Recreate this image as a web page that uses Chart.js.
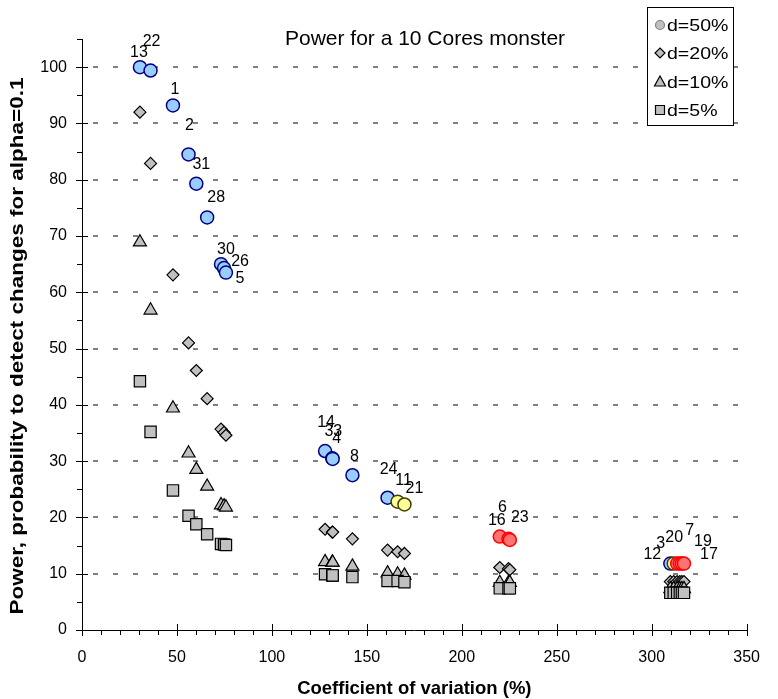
<!DOCTYPE html>
<html>
<head>
<meta charset="utf-8">
<title>Power for a 10 Cores monster</title>
<script src="https://cdn.jsdelivr.net/npm/chart.js"></script>
<style>
  html, body { margin: 0; padding: 0; background: #fff; }
  #wrap { width: 778px; height: 699px; }
</style>
</head>
<body>
<div id="wrap"><canvas id="powerChart" width="778" height="699"></canvas></div>
<script>
// Measurement ids, one per point (same order in every series)
const pointIds = ['13', '22', '1', '2', '31', '28', '30', '26', '5',
                  '14', '33', '4', '8', '24', '11', '21', '16', '6', '23',
                  '12', '3', '20', '7', '19', '17'];

// Coefficient of variation (%) of each measurement
const cv = [30.5, 36.1, 47.9, 56.1, 60.2, 65.9, 73.2, 74.8, 75.8,
            128.0, 131.8, 132.0, 142.4, 160.9, 166.2, 169.8, 220.0, 224.6, 225.3,
            309.8, 311.6, 313.4, 314.8, 315.9, 317.0];

// Power (%) for each detectable change d
const power50 = [100.0, 99.4, 93.2, 84.5, 79.3, 73.3, 65.0, 64.3, 63.5,
                 31.8, 30.5, 30.4, 27.5, 23.5, 22.8, 22.3, 16.6, 16.2, 16.0,
                 11.8, 11.8, 11.8, 11.8, 11.8, 11.8];
const power20 = [92.0, 82.9, 63.1, 51.0, 46.1, 41.1, 35.7, 35.1, 34.6,
                 17.9, 17.4, 17.4, 16.2, 14.2, 13.9, 13.6, 11.1, 10.9, 10.7,
                 8.6, 8.6, 8.6, 8.6, 8.6, 8.6];
const power10 = [68.9, 56.8, 39.4, 31.4, 28.5, 25.5, 22.2, 22.0, 21.8,
                 12.1, 12.0, 12.0, 11.3, 10.1, 9.9, 9.7, 8.4, 8.4, 8.4,
                 7.3, 7.3, 7.3, 7.3, 7.3, 7.3];
const power5 = [44.2, 35.2, 24.8, 20.3, 18.8, 17.0, 15.3, 15.2, 15.1,
                9.9, 9.7, 9.7, 9.4, 8.7, 8.7, 8.5, 7.4, 7.4, 7.4,
                6.6, 6.6, 6.6, 6.6, 6.6, 6.6];

const seriesNames = ['d=50%', 'd=20%', 'd=10%', 'd=5%'];
const xTicks = [0, 50, 100, 150, 200, 250, 300, 350];
const yTicks = [0, 10, 20, 30, 40, 50, 60, 70, 80, 90, 100];

// Which measurements get the yellow / red circle
const yellowIds = ['11', '21', '3'];
const redIds = ['16', '6', '23', '20', '7', '19', '17'];

// Where each id label sits relative to its circle (px)
const labelDx = [-1, 1, 2, 1, 5, 9, 5, 16, 14, 1, 1, 4, 2, 1, 6, 10, -3, -6, 10, -18, -13, -3, 10, 21, 25];
const labelDy = [-15, -29, -16, -29, -19, -20, -15, -6, 6, -28, -27, -20, -19, -28, -21, -16, -16, -31, -22, -9, -20, -26, -33, -22, -9];

const FONT = '"Liberation Sans", Arial, sans-serif';

const circleFill = pointIds.map(id => yellowIds.includes(id) ? '#FFFF99' : redIds.includes(id) ? '#FF7373' : '#99CCFF');
const circleLine = pointIds.map(id => yellowIds.includes(id) ? '#404000' : redIds.includes(id) ? '#FF0000' : '#000080');

const toPoints = ys => cv.map((x, i) => ({ x: x, y: ys[i] }));

// dashed grid, crossing major ticks, minor ticks
const axisDecor = {
  id: 'axisDecor',
  beforeDatasetsDraw(chart) {
    const { ctx, chartArea: a, scales: { x, y } } = chart;
    ctx.save();
    ctx.strokeStyle = '#808080';
    ctx.lineWidth = 2;
    ctx.setLineDash([5, 15]);
    ctx.lineDashOffset = 9;
    yTicks.forEach(v => {
      if (v === 0) return;
      const py = Math.round(y.getPixelForValue(v));
      ctx.beginPath();
      ctx.moveTo(a.left, py);
      ctx.lineTo(a.right, py);
      ctx.stroke();
    });
    ctx.setLineDash([]);
    ctx.strokeStyle = '#000';
    ctx.lineWidth = 1;
    ctx.beginPath();
    yTicks.forEach(v => {
      const py = Math.round(y.getPixelForValue(v)) + 0.5;
      ctx.moveTo(a.left - 6, py);
      ctx.lineTo(a.left + 6, py);
    });
    for (let v = 5; v <= 105; v += 10) {
      const py = Math.round(y.getPixelForValue(v)) + 0.5;
      ctx.moveTo(a.left - 5, py);
      ctx.lineTo(a.left, py);
    }
    xTicks.forEach(v => {
      const px = Math.round(x.getPixelForValue(v)) + 0.5;
      ctx.moveTo(px, a.bottom - 6);
      ctx.lineTo(px, a.bottom + 6);
    });
    for (let v = 10; v < 350; v += 10) {
      if (v % 50 === 0) continue;
      const px = Math.round(x.getPixelForValue(v)) + 0.5;
      ctx.moveTo(px, a.bottom);
      ctx.lineTo(px, a.bottom + 5);
    }
    ctx.stroke();
    ctx.restore();
  }
};

// id labels next to the d=50% circles, titles and legend box
const annotations = {
  id: 'annotations',
  afterDatasetsDraw(chart) {
    const ctx = chart.ctx;
    const meta = chart.getDatasetMeta(0);
    ctx.save();
    ctx.fillStyle = '#000';
    ctx.font = '16px ' + FONT;
    ctx.textAlign = 'center';
    ctx.textBaseline = 'middle';
    meta.data.forEach((pt, i) => {
      ctx.fillText(pointIds[i], pt.x + labelDx[i], pt.y + labelDy[i]);
    });

    ctx.font = '21px ' + FONT;
    ctx.textBaseline = 'alphabetic';
    ctx.fillText('Power for a 10 Cores monster', 425, 45);

    // vertical axis title, drawn a bit stretched along its length
    ctx.save();
    ctx.translate(18, 346);
    ctx.rotate(-Math.PI / 2);
    ctx.scale(1.25, 1);
    ctx.font = 'bold 18px ' + FONT;
    ctx.textBaseline = 'middle';
    ctx.fillText('Power, probability to detect changes for alpha=0.1', 0, 0);
    ctx.restore();

    // legend
    const bx = 647.5, by = 7.5, bw = 86, bh = 118;
    ctx.fillStyle = '#fff';
    ctx.fillRect(bx, by, bw, bh);
    ctx.strokeStyle = '#000';
    ctx.lineWidth = 1;
    ctx.strokeRect(bx, by, bw, bh);
    const rows = [25, 53, 82, 110];
    chart.data.datasets.forEach((ds, i) => {
      const mx = 660, my = rows[i];
      ctx.beginPath();
      if (ds.pointStyle === 'circle') {
        ctx.arc(mx, my, 4.5, 0, Math.PI * 2);
      } else if (ds.pointStyle === 'rectRot') {
        ctx.moveTo(mx, my - 5); ctx.lineTo(mx + 5, my); ctx.lineTo(mx, my + 5); ctx.lineTo(mx - 5, my);
        ctx.closePath();
      } else if (ds.pointStyle === 'triangle') {
        ctx.moveTo(mx, my - 6); ctx.lineTo(mx + 5.5, my + 4); ctx.lineTo(mx - 5.5, my + 4);
        ctx.closePath();
      } else {
        ctx.rect(mx - 4.5, my - 4.5, 9, 9);
      }
      ctx.fillStyle = '#C0C0C0';
      ctx.fill();
      ctx.strokeStyle = ds.pointStyle === 'circle' ? '#808080' : '#000';
      ctx.lineWidth = 1.2;
      ctx.stroke();
      ctx.save();
      ctx.translate(667, my + 1);
      ctx.scale(1.15, 1);
      ctx.font = '17px ' + FONT;
      ctx.textAlign = 'left';
      ctx.textBaseline = 'middle';
      ctx.fillStyle = '#000';
      ctx.fillText(ds.label, 0, 0);
      ctx.restore();
    });
    ctx.restore();
  }
};

new Chart(document.getElementById('powerChart'), {
  type: 'scatter',
  data: {
    datasets: [
      {
        label: seriesNames[0], data: toPoints(power50), order: 4,
        pointStyle: 'circle', pointRadius: 6.5, borderWidth: 1.5,
        backgroundColor: circleFill, borderColor: circleLine
      },
      {
        label: seriesNames[1], data: toPoints(power20), order: 3,
        pointStyle: 'rectRot', pointRadius: 6, borderWidth: 1.2,
        backgroundColor: '#C0C0C0', borderColor: '#000'
      },
      {
        label: seriesNames[2], data: toPoints(power10), order: 2,
        pointStyle: 'triangle', pointRadius: 7.5, borderWidth: 1.2,
        backgroundColor: '#C0C0C0', borderColor: '#000'
      },
      {
        label: seriesNames[3], data: toPoints(power5), order: 1,
        pointStyle: 'rect', pointRadius: 8, borderWidth: 1.2,
        backgroundColor: '#C0C0C0', borderColor: '#000'
      }
    ]
  },
  options: {
    responsive: false,
    animation: false,
    events: [],
    layout: { padding: { top: 39, right: 15, left: 0, bottom: 0 } },
    plugins: {
      legend: { display: false },
      tooltip: { enabled: false }
    },
    scales: {
      x: {
        type: 'linear', min: 0, max: 350,
        afterBuildTicks: s => { s.ticks = xTicks.map(v => ({ value: v })); },
        afterFit: s => { s.height = 69; },
        grid: { display: false, drawTicks: false },
        border: { display: true, color: '#000', width: 1 },
        ticks: { padding: 18, color: '#000', font: { family: FONT, size: 16 } },
        title: {
          display: true, text: 'Coefficient of variation (%)', color: '#000',
          font: { family: FONT, size: 18.5, weight: 'bold' }, padding: { top: 0, bottom: -1 }
        }
      },
      y: {
        type: 'linear', min: 0, max: 105,
        afterBuildTicks: s => { s.ticks = yTicks.map(v => ({ value: v })); },
        afterFit: s => { s.width = 82; },
        grid: { display: false, drawTicks: false },
        border: { display: true, color: '#000', width: 1 },
        ticks: { padding: 15, color: '#000', font: { family: FONT, size: 16 } },
        title: { display: false }
      }
    }
  },
  plugins: [axisDecor, annotations]
});
</script>
</body>
</html>
